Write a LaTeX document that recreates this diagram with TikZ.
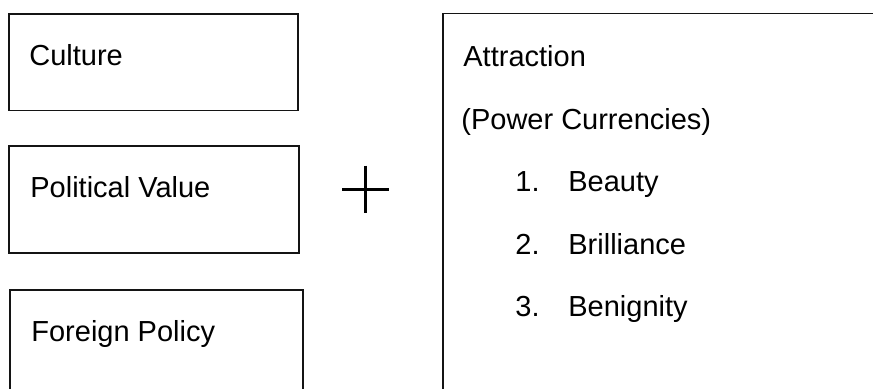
\documentclass[tikz,border=0pt]{standalone}
\usepackage{fontspec}
\setmainfont{Liberation Sans}
\usetikzlibrary{fit}
\begin{document}
\begin{tikzpicture}[x=0.5pt,y=-0.5pt]
\tikzstyle{box} = [draw=black!92, line width=0.8pt, inner sep=0pt]
\tikzstyle{txt} = [anchor=base west, inner sep=0pt, font=\fontsize{14.5}{17}\selectfont]
\clip (0,0) rectangle (873,388);
% the three sources on the left
\node[box, fit={(9,14) (298,110.5)}] (culture) {};
\node[box, fit={(9,146) (299,253)}] (political) {};
\node[box, fit={(10,290) (303,420)}] (foreign) {};
\node[txt] (culturetxt) at (29,65.7) {Culture};
\node[txt] (politicaltxt) at (30,197.7) {Political Value};
\node[txt] (foreigntxt) at (31,341) {Foreign Policy};
% plus sign
\coordinate (plus) at (365.7,189);
\draw[line width=1.5pt] (plus) ++(-23.5,0) -- ++(47,0);
\draw[line width=1.5pt] (plus) ++(0,-23.5) -- ++(0,47);
% attraction box, runs off to the right and bottom
\node[box, line width=0.7pt, fit={(443,13.5) (900,420)}] (attraction) {};
\node[txt] (attrtxt) at (463,66) {Attraction};
\node[txt] (currtxt) at (461,129) {(Power Currencies)};
\node[txt] (item1) at (515,191.5) {\makebox[26.5pt][l]{1.}Beauty};
\node[txt] (item2) at (515,254) {\makebox[26.5pt][l]{2.}Brilliance};
\node[txt] (item3) at (515,316.5) {\makebox[26.5pt][l]{3.}Benignity};
\end{tikzpicture}
\end{document}
